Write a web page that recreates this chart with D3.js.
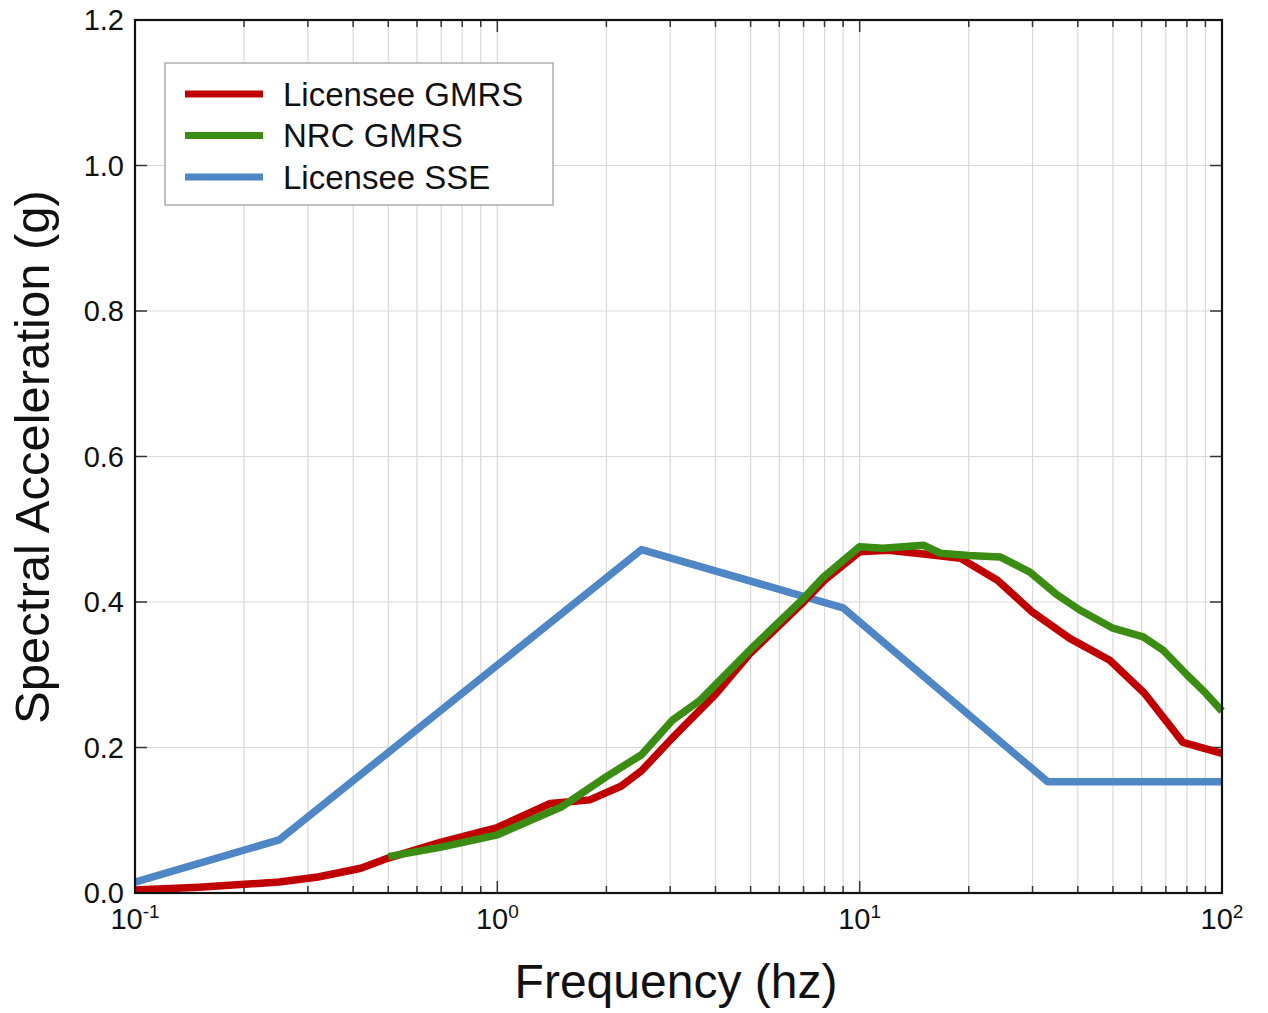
<!DOCTYPE html>
<html>
<head>
<meta charset="utf-8">
<script src="https://cdn.jsdelivr.net/npm/d3@7"></script>
<style>
  body { margin: 0; background: #fff; }
  text { font-family: "Liberation Sans", Arial, sans-serif; fill: #111; }
</style>
</head>
<body>
<script>
// spectra (frequency hz, acceleration g)
var sseFreq = [0.1, 0.25, 2.5, 9.0, 33, 100];
var sseAcc  = [0.015, 0.073, 0.472, 0.392, 0.153, 0.153];

var licFreq = [0.1, 0.15, 0.25, 0.32, 0.42, 0.5, 0.7, 1.0, 1.4, 1.8, 2.2, 2.5, 3.0, 4.0, 5.0, 7.0, 8.0, 10, 12, 15, 19, 24, 30, 38, 49, 61, 78, 100];
var licAcc  = [0.004, 0.008, 0.015, 0.022, 0.034, 0.048, 0.07, 0.09, 0.123, 0.128, 0.147, 0.168, 0.21, 0.273, 0.33, 0.40, 0.43, 0.469, 0.471, 0.466, 0.46, 0.43, 0.386, 0.35, 0.32, 0.275, 0.207, 0.192];

var nrcFreq = [0.5, 0.7, 1.0, 1.5, 2.0, 2.5, 3.05, 3.63, 5.0, 7.0, 7.93, 10, 11.6, 15, 16.7, 20, 24.4, 29.5, 35, 40.5, 50, 60.6, 68.7, 80, 90, 100];
var nrcAcc  = [0.05, 0.063, 0.08, 0.118, 0.16, 0.19, 0.238, 0.265, 0.335, 0.405, 0.434, 0.476, 0.474, 0.478, 0.467, 0.464, 0.462, 0.441, 0.41, 0.389, 0.364, 0.352, 0.334, 0.30, 0.275, 0.25];

var seriesNames  = ["Licensee GMRS", "NRC GMRS", "Licensee SSE"];
var seriesColors = ["#c00000", "#3a8c12", "#4f86c6"];
var yTicks = [0.0, 0.2, 0.4, 0.6, 0.8, 1.0, 1.2];
var decades = [-1, 0, 1, 2];

var W = 1268, H = 1013;
var plotL = 135, plotR = 1222, plotT = 20, plotB = 893;

var svg = d3.select("body").append("svg")
    .attr("width", W).attr("height", H);

var x = d3.scaleLog().domain([0.1, 100]).range([plotL, plotR]);
var y = d3.scaleLinear().domain([0, 1.2]).range([plotB, plotT]);

// all log ticks, major and minor
var minorTicks = [];
[0.1, 1, 10].forEach(function(d) {
  for (var k = 1; k < 10; k++) minorTicks.push(d * k);
});
minorTicks.push(100);

var grid = svg.append("g");
grid.selectAll("line.vg").data(minorTicks).enter().append("line")
    .attr("x1", function(d) { return x(d); }).attr("x2", function(d) { return x(d); })
    .attr("y1", plotT).attr("y2", plotB)
    .style("stroke", "#d9d9d9").style("stroke-width", 1.2);
grid.selectAll("line.hg").data(yTicks).enter().append("line")
    .attr("x1", plotL).attr("x2", plotR)
    .attr("y1", function(d) { return y(d); }).attr("y2", function(d) { return y(d); })
    .style("stroke", "#d9d9d9").style("stroke-width", 1.2);

// inward ticks, bottom and top
var ticks = svg.append("g").style("stroke", "#333").style("stroke-width", 1.5);
minorTicks.forEach(function(d) {
  var major = Math.abs(Math.log10(d) - Math.round(Math.log10(d))) < 1e-9;
  var len = major ? 12 : 7;
  ticks.append("line").attr("x1", x(d)).attr("x2", x(d)).attr("y1", plotB).attr("y2", plotB - len);
  ticks.append("line").attr("x1", x(d)).attr("x2", x(d)).attr("y1", plotT).attr("y2", plotT + len);
});
yTicks.forEach(function(d) {
  ticks.append("line").attr("x1", plotL).attr("x2", plotL + 12).attr("y1", y(d)).attr("y2", y(d));
  ticks.append("line").attr("x1", plotR).attr("x2", plotR - 12).attr("y1", y(d)).attr("y2", y(d));
});

// data lines
var line = d3.line()
    .x(function(d) { return x(d[0]); })
    .y(function(d) { return y(d[1]); });

var series = [
  { f: licFreq, a: licAcc, c: seriesColors[0] },
  { f: nrcFreq, a: nrcAcc, c: seriesColors[1] },
  { f: sseFreq, a: sseAcc, c: seriesColors[2] }
];
var drawOrder = [2, 0, 1];
drawOrder.forEach(function(i) {
  var s = series[i];
  svg.append("path")
     .datum(d3.zip(s.f, s.a))
     .attr("d", line)
     .style("fill", "none")
     .style("stroke", s.c)
     .style("stroke-width", 7.5)
     .style("stroke-linejoin", "round");
});

// frame
svg.append("rect")
   .attr("x", plotL).attr("y", plotT)
   .attr("width", plotR - plotL).attr("height", plotB - plotT)
   .style("fill", "none").style("stroke", "#111").style("stroke-width", 2.2);

// y tick labels
svg.selectAll("text.yl").data(yTicks).enter().append("text")
   .attr("x", plotL - 11).attr("y", function(d) { return y(d); })
   .attr("dy", "0.36em")
   .attr("text-anchor", "end")
   .style("font-size", "29px")
   .text(function(d) { return d.toFixed(1); });

// x tick labels 10^n
decades.forEach(function(p) {
  var t = svg.append("text")
     .attr("x", x(Math.pow(10, p)))
     .attr("y", plotB + 36)
     .attr("text-anchor", "middle")
     .style("font-size", "29px");
  t.append("tspan").text("10");
  t.append("tspan").attr("dy", "-11").style("font-size", "19px").text(p);
});

// axis titles
svg.append("text")
   .attr("x", 676).attr("y", 998)
   .attr("text-anchor", "middle")
   .style("font-size", "48px")
   .text("Frequency (hz)");
svg.append("text")
   .attr("transform", "translate(49,457) rotate(-90)")
   .attr("text-anchor", "middle")
   .style("font-size", "49px")
   .text("Spectral Acceleration (g)");

// legend
var lg = svg.append("g");
lg.append("rect")
  .attr("x", 165).attr("y", 63).attr("width", 388).attr("height", 142)
  .style("fill", "#fff").style("stroke", "#999").style("stroke-width", 1.2);
seriesNames.forEach(function(n, i) {
  var ly = 94 + i * 41.5;
  lg.append("line")
    .attr("x1", 185).attr("x2", 263).attr("y1", ly).attr("y2", ly)
    .style("stroke", seriesColors[i]).style("stroke-width", 7);
  lg.append("text")
    .attr("x", 283).attr("y", ly).attr("dy", "0.36em")
    .style("font-size", "33px")
    .text(n);
});
</script>
</body>
</html>
